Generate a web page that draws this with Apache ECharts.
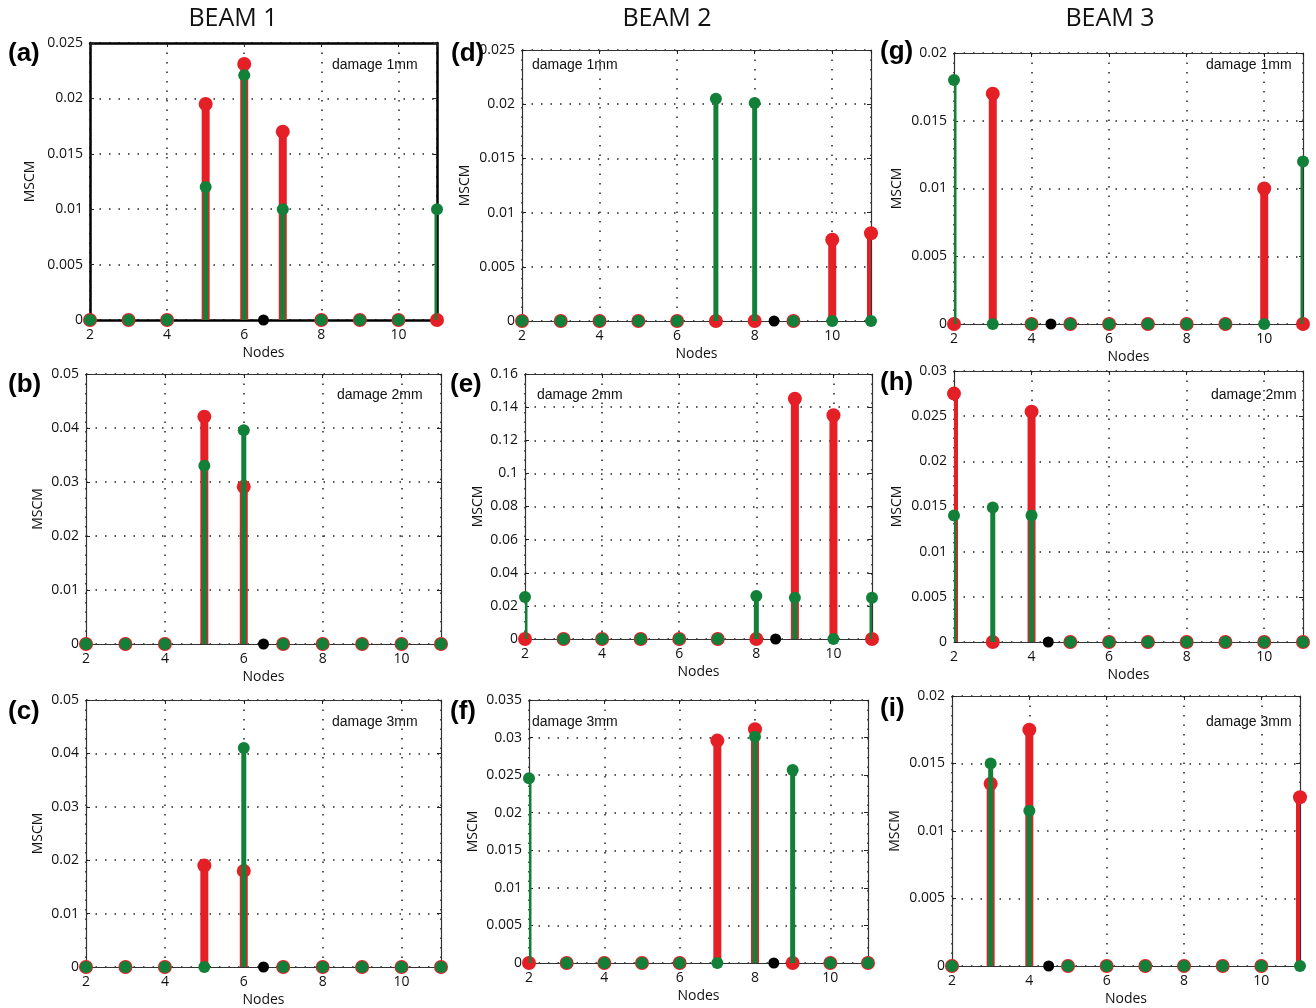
<!DOCTYPE html>
<html>
<head>
<meta charset="utf-8">
<script src="https://cdn.jsdelivr.net/npm/echarts@6/dist/echarts.min.js"></script>
<style>
  html, body { margin: 0; padding: 0; background: #fff; }
  #chart { width: 1316px; height: 1008px; }
</style>
</head>
<body>
<div id="chart"></div>
<script>
// nodes along the beam
const nodes = [2, 3, 4, 5, 6, 7, 8, 9, 10, 11];

// BEAM 1
const redA = [0, 0, 0, 0.0195, 0.0231, 0.0170, 0, 0, 0, 0];
const greenA = [0, 0, 0, 0.0120, 0.0221, 0.0100, 0, 0, 0, 0.0100];
const redB = [0, 0, 0, 0.0421, 0.0291, 0, 0, 0, 0, 0];
const greenB = [0, 0, 0, 0.0330, 0.0396, 0, 0, 0, 0, 0];
const redC = [0, 0, 0, 0.0190, 0.0180, 0, 0, 0, 0, 0];
const greenC = [0, 0, 0, 0, 0.0410, 0, 0, 0, 0, 0];
// BEAM 2
const redD = [0, 0, 0, 0, 0, 0, 0, 0, 0.0075, 0.0081];
const greenD = [0, 0, 0, 0, 0, 0.0205, 0.0201, 0, 0, 0];
const redE = [0, 0, 0, 0, 0, 0, 0, 0.1451, 0.1351, 0];
const greenE = [0.0253, 0, 0, 0, 0, 0, 0.0259, 0.0249, 0, 0.0249];
const redF = [0, 0, 0, 0, 0, 0.0296, 0.0311, 0, 0, 0];
const greenF = [0.0246, 0, 0, 0, 0, 0, 0.0301, 0.0257, 0, 0];
// BEAM 3
const redG = [0, 0.0170, 0, 0, 0, 0, 0, 0, 0.0100, 0];
const greenG = [0.0180, 0, 0, 0, 0, 0, 0, 0, 0, 0.0120];
const redH = [0.0275, 0, 0.0255, 0, 0, 0, 0, 0, 0, 0];
const greenH = [0.0140, 0.0149, 0.0140, 0, 0, 0, 0, 0, 0, 0];
const redI = [0, 0.0135, 0.0175, 0, 0, 0, 0, 0, 0, 0.0125];
const greenI = [0, 0.0150, 0.0115, 0, 0, 0, 0, 0, 0, 0];

// damage location (between nodes) per panel
const damageAt = [6.5, 6.5, 6.5, 8.5, 8.5, 8.5, 4.5, 4.43, 4.5];
// y scale per panel
const yMax = [0.025, 0.05, 0.05, 0.025, 0.16, 0.035, 0.02, 0.03, 0.02];
const yStep = [0.005, 0.01, 0.01, 0.005, 0.02, 0.005, 0.005, 0.005, 0.005];
const letters = ['(a)', '(b)', '(c)', '(d)', '(e)', '(f)', '(g)', '(h)', '(i)'];
const damageText = ['damage 1mm', 'damage 2mm', 'damage 3mm',
  'damage 1mm', 'damage 2mm', 'damage 3mm',
  'damage 1mm', 'damage 2mm', 'damage 3mm'];
const beamTitles = ['BEAM 1', 'BEAM 2', 'BEAM 3'];

const reds = [redA, redB, redC, redD, redE, redF, redG, redH, redI];
const greens = [greenA, greenB, greenC, greenD, greenE, greenF, greenG, greenH, greenI];

// layout of each panel
const boxes = [
  { left: 90, top: 43, width: 347, height: 277, gap: 53, txt: [332, 65], lab: [8, 54] },
  { left: 86, top: 374, width: 355, height: 270, gap: 41, txt: [337, 395], lab: [8, 385] },
  { left: 86, top: 700, width: 355, height: 270, gap: 41, txt: [332, 722], lab: [8, 712] },
  { left: 522, top: 50, width: 349, height: 271, gap: 50, txt: [532, 65], lab: [451, 54] },
  { left: 525, top: 374, width: 347, height: 265, gap: 40, txt: [537, 395], lab: [450, 385] },
  { left: 529, top: 700, width: 339, height: 263, gap: 49, txt: [532, 722], lab: [450, 712] },
  { left: 954, top: 53, width: 349, height: 271, gap: 50, txt: [1206, 65], lab: [880, 52] },
  { left: 954, top: 371, width: 349, height: 271, gap: 50, txt: [1211, 395], lab: [880, 383] },
  { left: 952, top: 696, width: 348, height: 270, gap: 50, txt: [1206, 722], lab: [880, 709] }
];

const RED = '#e41f26';
const GREEN = '#13803a';
const FONT = 'Open Sans';

const chart = echarts.init(document.getElementById('chart'));

const grid = [];
const xAxis = [];
const yAxis = [];
const series = [];
const graphic = [];

function stem(color, width) {
  return (params, api) => {
    const x = api.value(0);
    const p0 = api.coord([x, 0]);
    const p1 = api.coord([x, api.value(1)]);
    return {
      type: 'line',
      shape: { x1: p0[0], y1: p0[1], x2: p1[0], y2: p1[1] },
      style: { stroke: color, lineWidth: width }
    };
  };
}

const dotted = { show: true, lineStyle: { color: '#222', width: 1.5, type: [1.5, 8] } };

boxes.forEach((b, k) => {
  const frameColor = k === 0 ? '#000' : '#333';
  const frameWidth = k === 0 ? 2.5 : 1.2;
  const line = { show: true, onZero: false, lineStyle: { color: frameColor, width: frameWidth } };
  const tick = { show: true, inside: true, length: 4, lineStyle: { color: '#222' } };

  grid.push({ left: b.left, top: b.top, width: b.width, height: b.height, containLabel: false });

  xAxis.push({
    type: 'value', gridIndex: k, min: 2, max: 11, interval: 2,
    name: 'Nodes', nameLocation: 'middle', nameGap: 26,
    nameTextStyle: { fontFamily: FONT, fontSize: 14, color: '#111' },
    axisLine: line, axisTick: tick, splitLine: dotted,
    axisLabel: {
      margin: 8, fontFamily: FONT, fontSize: 14, color: '#111',
      formatter: v => (v === 11 ? '' : String(v))
    }
  });
  xAxis.push({
    type: 'value', gridIndex: k, min: 2, max: 11, interval: 2, position: 'top',
    axisLine: line, axisTick: tick, axisLabel: { show: false }, splitLine: { show: false }
  });

  yAxis.push({
    type: 'value', gridIndex: k, min: 0, max: yMax[k], interval: yStep[k],
    name: 'MSCM', nameLocation: 'middle', nameGap: b.gap,
    nameTextStyle: { fontFamily: FONT, fontSize: 14, color: '#111' },
    axisLine: line, axisTick: tick, splitLine: dotted,
    axisLabel: {
      margin: 7, fontFamily: FONT, fontSize: 14, color: '#111',
      formatter: v => String(+v.toFixed(4))
    }
  });
  yAxis.push({
    type: 'value', gridIndex: k, min: 0, max: yMax[k], interval: yStep[k], position: 'right',
    axisLine: line, axisTick: tick, axisLabel: { show: false }, splitLine: { show: false }
  });

  const redData = nodes.map((n, i) => [n, reds[k][i]]);
  const greenData = nodes.map((n, i) => [n, greens[k][i]]);
  const xi = 2 * k;
  const yi = 2 * k;

  series.push({
    type: 'custom', xAxisIndex: xi, yAxisIndex: yi, clip: true, z: 2,
    renderItem: stem(RED, 8), encode: { x: 0, y: 1 }, data: redData, silent: true
  });
  series.push({
    type: 'scatter', xAxisIndex: xi, yAxisIndex: yi, clip: false, z: 3,
    symbolSize: 14, itemStyle: { color: RED, opacity: 1 }, data: redData, silent: true
  });
  series.push({
    type: 'custom', xAxisIndex: xi, yAxisIndex: yi, clip: true, z: 4,
    renderItem: stem(GREEN, 5), encode: { x: 0, y: 1 }, data: greenData, silent: true
  });
  series.push({
    type: 'scatter', xAxisIndex: xi, yAxisIndex: yi, clip: false, z: 5,
    symbolSize: 12, itemStyle: { color: GREEN, opacity: 1 }, data: greenData, silent: true
  });
  series.push({
    type: 'scatter', xAxisIndex: xi, yAxisIndex: yi, clip: false, z: 6,
    symbolSize: 11, itemStyle: { color: '#000', opacity: 1 }, data: [[damageAt[k], 0]], silent: true
  });

  graphic.push({
    type: 'text', x: b.txt[0], y: b.txt[1], z: 10,
    style: { text: damageText[k], font: '14px "Liberation Sans"', fill: '#111', textVerticalAlign: 'middle' }
  });
  graphic.push({
    type: 'text', x: b.lab[0], y: b.lab[1], z: 10,
    style: { text: letters[k], font: 'bold 26px "Liberation Sans"', fill: '#000', textVerticalAlign: 'middle' }
  });
});

const titleX = [233, 667, 1110];
beamTitles.forEach((t, i) => {
  graphic.push({
    type: 'text', x: titleX[i], y: 19, z: 10,
    style: { text: t, font: '25px "Open Sans"', fill: '#111', textAlign: 'center', textVerticalAlign: 'middle' }
  });
});

chart.setOption({
  animation: false,
  backgroundColor: '#fff',
  grid: grid,
  xAxis: xAxis,
  yAxis: yAxis,
  series: series,
  graphic: graphic
});
</script>
</body>
</html>
